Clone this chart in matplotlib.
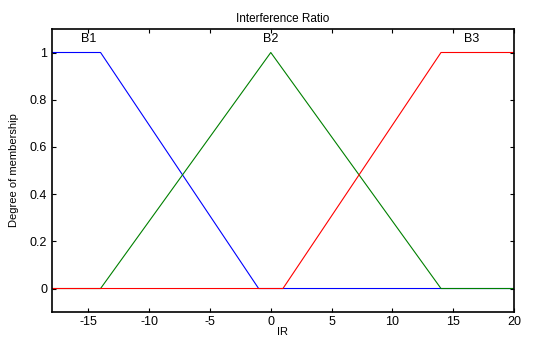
import matplotlib.pyplot as plt

plt.rcParams['font.family'] = ['Liberation Sans', 'DejaVu Sans']
plt.rcParams['axes.unicode_minus'] = False

# membership functions (breakpoints)
b1_x = [-18, -14, -1, 20]
b1_y = [1, 1, 0, 0]
b2_x = [-18, -14, 0, 14, 20]
b2_y = [0, 0, 1, 0, 0]
b3_x = [-18, 1, 14, 20]
b3_y = [0, 0, 1, 1]

names = ['B1', 'B2', 'B3']
name_x = [-15, 0, 16.5]

fig = plt.figure(figsize=(5.41, 3.40), dpi=100)
ax = fig.add_axes([0.096, 0.082, 0.854, 0.833])

ax.plot(b1_x, b1_y, color='blue', lw=0.8)
ax.plot(b2_x, b2_y, color='green', lw=0.8)
ax.plot(b3_x, b3_y, color='red', lw=0.8)

for n, x in zip(names, name_x):
    ax.text(x, 1.03, n, ha='center', va='bottom', fontsize=9)

ax.set_xlim(-18, 20)
ax.set_ylim(-0.1, 1.1)
ax.set_xticks([-15, -10, -5, 0, 5, 10, 15, 20])
ax.set_yticks([0, 0.2, 0.4, 0.6, 0.8, 1])
ax.set_yticklabels(['0', '0.2', '0.4', '0.6', '0.8', '1'])
ax.tick_params(direction='in', top=True, right=True, labelsize=9, length=3, width=0.8)
ax.tick_params(axis='x', pad=3)
for s in ax.spines.values():
    s.set_linewidth(1.2)

ax.set_title('Interference Ratio', fontsize=8.5, pad=5)
ax.set_xlabel('IR', fontsize=8, labelpad=-1)
ax.set_ylabel('Degree of membership', fontsize=8, labelpad=8)

fig.savefig('out.png', dpi=100)
